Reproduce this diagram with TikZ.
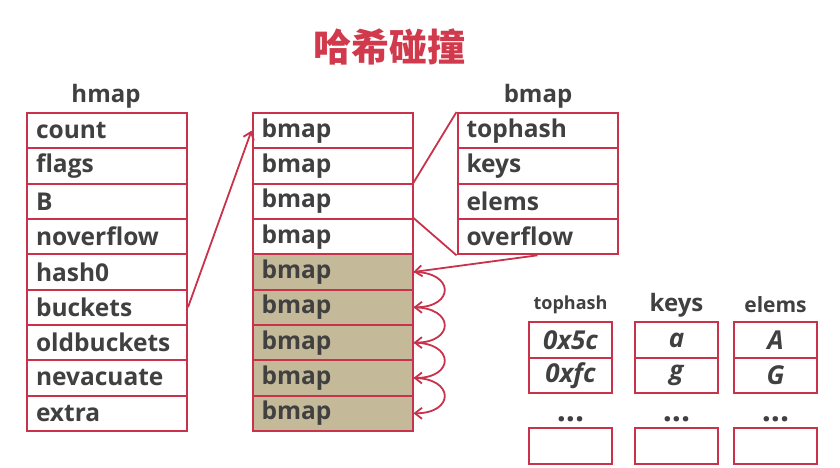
\documentclass[tikz,border=0pt]{standalone}
\usepackage{fontspec}
\setmainfont{Open Sans}
\newfontfamily\cjk{Noto Sans CJK SC}
\usetikzlibrary{arrows.meta}
\definecolor{boxred}{HTML}{C8324A}
\definecolor{titlered}{HTML}{D03A4C}
\definecolor{txtgray}{HTML}{404040}
\definecolor{bucketfill}{HTML}{C4B999}

\begin{document}
\begin{tikzpicture}[
    x=1pt, y=-1pt,          % one unit is one pixel of the slide, y downwards
    cell/.style={
        draw=boxred, line width=2pt,
        text=txtgray,
        minimum height=35.33pt,
        text width=142pt,   % plus the two xseps gives 160 wide
        inner xsep=9pt, inner ysep=0pt,
        align=left,
        font=\fontsize{24.5}{24.5}\selectfont\bfseries
    },
    full/.style={cell, fill=bucketfill},
    small/.style={
        draw=boxred, line width=2pt,
        text=txtgray,
        minimum width=83pt, minimum height=35.5pt,
        inner sep=0pt,
        font=\fontsize{26}{26}\selectfont\bfseries\itshape
    },
    head/.style={text=txtgray, font=\fontsize{24}{24}\selectfont\bfseries},
    link/.style={draw=boxred, line width=1.8pt},
    ptr/.style={link, -{Straight Barb[length=7pt,width=11pt]}}
]
\useasboundingbox (0,0) rectangle (840,468);

\node[text=titlered, font=\cjk\bfseries\fontsize{38}{38}\selectfont] (title) at (389,47) {哈希碰撞};

% hmap
\node[head] (hhead) at (106,96) {hmap};
\foreach \name [count=\i] in {count,flags,B,noverflow,hash0,buckets,oldbuckets,nevacuate,extra}
    \node[cell] (h\i) at (107,{95.33+35.33*\i}) {\name};

% buckets array
\foreach \i in {1,...,4}
    \node[cell] (b\i) at (332.5,{95.33+35.33*\i}) {bmap};
\foreach \i in {5,...,9}
    \node[full] (b\i) at (332.5,{95.33+35.33*\i}) {bmap};

% one bmap
\node[head] (shead) at (538,96) {bmap};
\foreach \name [count=\i] in {tophash,keys,elems,overflow}
    \node[cell] (s\i) at (537.5,{95.33+35.33*\i}) {\name};

\draw[ptr] (h6.east) -- (b1.west);
\draw[link] (b3.north east) -- (s1.north west);
\draw[link] (b4.north east) -- (s4.south west);
\draw[ptr] (s4.south) -- (b5.east);
\foreach \i [evaluate=\i as \j using int(\i+1)] in {5,...,8}
    \draw[ptr] (b\i.east) to[out=0, in=0, looseness=3] (b\j.east);

% inside a bmap
\node[head, font=\fontsize{18}{18}\selectfont\bfseries] (thead) at (570.5,305) {tophash};
\node[head] (khead) at (676.5,305) {keys};
\node[head, font=\fontsize{21}{21}\selectfont\bfseries] (ehead) at (775.5,305) {elems};
\foreach \col/\x/\va/\vb in {t/570.5/0x5c/0xfc, k/676.5/a/g, e/775.5/A/G} {
    \node[small] (\col1) at (\x,340) {\va};
    \node[small] (\col2) at (\x,375.5) {\vb};
    \node[text=txtgray, font=\fontsize{32}{32}\selectfont\bfseries] (\col-dots) at (\x,419) {...};
    \node[small] (\col3) at (\x,446) {};
}
\end{tikzpicture}
\end{document}
